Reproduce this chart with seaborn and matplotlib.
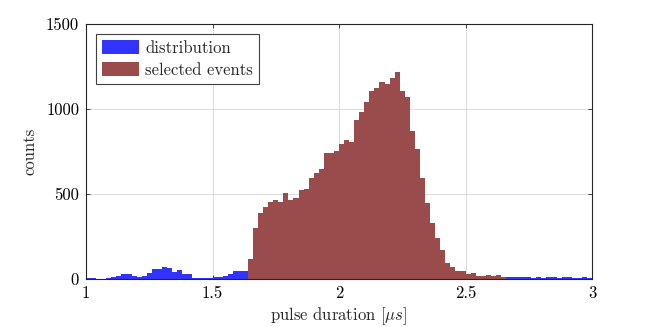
import numpy as np
import pandas as pd
import matplotlib
matplotlib.use("Agg")
import matplotlib.pyplot as plt
import seaborn as sns

# counts per 0.02 us bin
low_tail = [3, 4, 2, 2, 4, 10, 20, 27, 27, 20, 10, 18, 33, 57, 57, 69,
            67, 39, 53, 29, 29, 8, 6, 6, 4, 10, 10, 20, 27, 47, 47, 47]          # 1.00 - 1.62
selected = [116, 298, 390, 421, 455, 465, 455, 504, 465, 478, 523, 529, 592,
            621, 647, 739, 739, 755, 794, 817, 805, 933, 982, 1043, 1105, 1121,
            1156, 1150, 1180, 1215, 1107, 1068, 870, 763, 594, 449, 331, 243,
            170, 96, 69, 47, 47, 27, 33, 18, 18, 24, 18, 24, 14]                  # 1.64 - 2.64
high_tail = [14, 12, 10, 12, 9, 8, 10, 8, 12, 9, 8, 14, 10, 8, 6, 10, 8]          # 2.66 - 2.98

bin_start = 1.0
bin_width = 0.02
xticks = [1, 1.5, 2, 2.5, 3]
yticks = [0, 500, 1000, 1500]

sns.set_theme(style="ticks")
plt.rcParams.update({
    'font.family': 'serif',
    'font.serif': ['cmr10', 'DejaVu Serif'],
    'mathtext.fontset': 'cm',
    'axes.formatter.use_mathtext': True,
    'font.size': 12,
})

n_bins = len(low_tail) + len(selected) + len(high_tail)
centers = bin_start + bin_width * (np.arange(n_bins) + 0.5)
dist = pd.DataFrame({'duration': centers, 'counts': low_tail + selected + high_tail})
n0 = len(low_tail)
sel = pd.DataFrame({'duration': centers[n0:n0 + len(selected)], 'counts': selected})
brange = (bin_start, bin_start + bin_width * n_bins)

fig = plt.figure(figsize=(6.54, 3.27), dpi=100)
ax = fig.add_axes([0.1315, 0.1468, 0.7737, 0.7798])

sns.histplot(data=dist, x='duration', weights='counts', bins=n_bins, binrange=brange,
             color='#3333ff', alpha=1, linewidth=0, label='distribution', ax=ax)
sns.histplot(data=sel, x='duration', weights='counts', bins=n_bins, binrange=brange,
             color='#9a4b4b', alpha=1, linewidth=0, label='selected events', ax=ax)

ax.set_xlim(1, 3)
ax.set_ylim(0, 1500)
ax.set_xticks(xticks)
ax.set_xticklabels(['%g' % t for t in xticks])
ax.set_yticks(yticks)
ax.set_yticklabels(['%g' % t for t in yticks])
ax.set_axisbelow(True)
ax.grid(True, color='#dcdcdc', linewidth=0.7)
ax.tick_params(direction='in', length=3, width=0.6, top=True, right=True,
               labelsize=12, colors='#262626', labelcolor='black', pad=5)
for s in ax.spines.values():
    s.set_visible(True)
    s.set_color('#262626')
    s.set_linewidth(0.8)

ax.set_xlabel(r'pulse duration [$\mu s$]', fontsize=12, labelpad=3)
ax.set_ylabel('counts', fontsize=12, labelpad=6)

leg = ax.legend(loc='upper left', fontsize=12, frameon=True, fancybox=False,
                edgecolor='#404040', framealpha=1, borderpad=0.35, handlelength=2.2,
                handleheight=0.9, labelspacing=0.4, handletextpad=0.4,
                borderaxespad=0.6)
leg.get_frame().set_linewidth(0.8)

plt.savefig('out.png', dpi=100)
